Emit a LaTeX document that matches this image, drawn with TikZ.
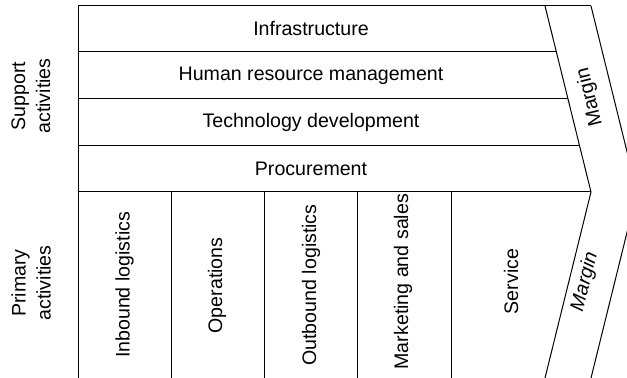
\documentclass[tikz,border=0pt]{standalone}
\usepackage{fontspec}
\setmainfont{Liberation Sans}
\begin{document}
\begin{tikzpicture}[x=0.5pt,y=-0.5pt,line width=0.5pt,
  every node/.style={font=\fontsize{9.8}{12.5}\selectfont, inner sep=0pt, outer sep=0pt, align=center},
  up/.style={rotate=90}]
\useasboundingbox (0,0) rectangle (627,378);
\clip (0,0) rectangle (627,378);

\coordinate (tip) at (591,192);
\coordinate (outertip) at (637,192);

\draw (591,6) -- (78.5,6) -- (78.5,378);
\draw (545,6) -- (tip) -- (545,378);
\draw (591,6) -- (outertip) -- (591,378);
\draw (78.5,52) -- (556.4,52);
\draw (78.5,99) -- (568,99);
\draw (78.5,146) -- (579.6,146);
\draw (78.5,192) -- (tip);
\draw (171.7,192) -- (171.7,378);
\draw (264.3,192) -- (264.3,378);
\draw (357.7,192) -- (357.7,378);
\draw (451,192) -- (451,378);

\node (infra) at (311,29) {Infrastructure};
\node (hrm) at (311,75.5) {Human resource management};
\node (tech) at (311,122) {Technology development};
\node (proc) at (311,169) {Procurement};

\node[up] (support) at (31,96) {Support\\activities};
\node[up] (primary) at (31,283) {Primary\\activities};

\node[up] (inbound) at (124.6,285) {Inbound logistics};
\node[up] (ops) at (217,285.5) {Operations};
\node[up] (outbound) at (311,285) {Outbound logistics};
\node[up] (market) at (403,281.7) {Marketing and sales};
\node[up] (service) at (511,281.5) {Service};

\node[rotate=104] (margintop) at (590,97) {Margin};
\node[rotate=76,font=\fontsize{9.8}{12.5}\selectfont\itshape] (marginbot) at (585,282) {Margin};
\end{tikzpicture}
\end{document}
